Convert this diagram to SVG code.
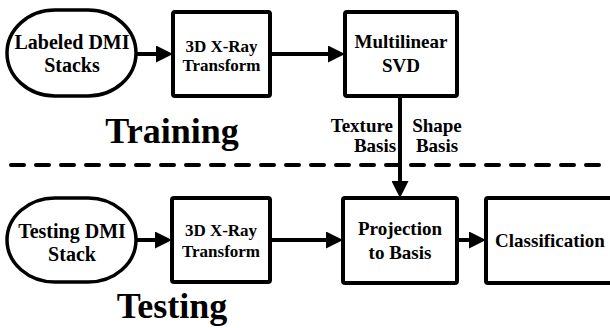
<svg xmlns="http://www.w3.org/2000/svg" width="610" height="328" viewBox="0 0 610 328">
<defs>
<style>
.box{fill:#fff;stroke:#000;stroke-width:4}
.term{fill:#fff;stroke:#000;stroke-width:3.5}
.t{font-family:"Liberation Serif","Times New Roman",serif;font-weight:bold;fill:#000;text-anchor:middle}
.n{font-size:19px}
.m{font-size:20px}
.s{font-size:17px}
.big{font-size:36px}
.edge{stroke:#000;stroke-width:4;fill:none}
.dash{stroke:#000;stroke-width:4;stroke-dasharray:13 12;stroke-linecap:round;fill:none}
</style>
<marker id="ah" markerUnits="userSpaceOnUse" markerWidth="17" markerHeight="17" refX="7" refY="8.5" orient="auto" viewBox="0 0 17 17">
<path d="M0,0 L17,8.5 L0,17 z" fill="#000"/>
</marker>
</defs>
<rect width="610" height="328" fill="#fff"/>

<g id="connectors">
<line class="edge" x1="136" y1="54" x2="163" y2="54" marker-end="url(#ah)"/>
<line class="edge" x1="270" y1="54" x2="335" y2="54" marker-end="url(#ah)"/>
<line class="edge" x1="400" y1="96" x2="400" y2="188" marker-end="url(#ah)"/>
<line class="edge" x1="136" y1="240" x2="162" y2="240" marker-end="url(#ah)"/>
<line class="edge" x1="270" y1="240" x2="333" y2="240" marker-end="url(#ah)"/>
<line class="edge" x1="457" y1="240" x2="476" y2="240" marker-end="url(#ah)"/>
<text class="t n" x="393" y="132" style="text-anchor:end">Texture</text>
<text class="t n" x="375" y="152">Basis</text>
<text class="t n" x="437" y="132">Shape</text>
<text class="t n" x="437" y="152">Basis</text>
</g>

<g id="divider">
<line class="dash" x1="11" y1="165" x2="610" y2="165"/>
</g>

<g id="training-label"><text class="t big" x="172" y="143">Training</text></g>
<g id="testing-label"><text class="t big" x="172" y="318">Testing</text></g>

<g id="labeled-dmi">
<rect class="term" x="7" y="10" width="129" height="86" rx="48" ry="43"/>
<text class="t m" x="72" y="49">Labeled DMI</text>
<text class="t m" x="72" y="72">Stacks</text>
</g>
<g id="xray-train">
<rect class="box" x="173" y="12" width="97" height="84" rx="2"/>
<text class="t s" x="221.5" y="52">3D X-Ray</text>
<text class="t s" x="221.5" y="71">Transform</text>
</g>
<g id="msvd">
<rect class="box" x="345" y="12" width="112" height="84" rx="2"/>
<text class="t n" x="401" y="48">Multilinear</text>
<text class="t n" x="401" y="72">SVD</text>
</g>

<g id="testing-dmi">
<rect class="term" x="7" y="198" width="129" height="84" rx="48" ry="42"/>
<text class="t m" x="72" y="238">Testing DMI</text>
<text class="t m" x="72" y="261">Stack</text>
</g>
<g id="xray-test">
<rect class="box" x="172" y="198" width="98" height="84" rx="2"/>
<text class="t s" x="221" y="236">3D X-Ray</text>
<text class="t s" x="221" y="257">Transform</text>
</g>
<g id="projection">
<rect class="box" x="343" y="198" width="114" height="85" rx="2"/>
<text class="t n" x="400" y="235">Projection</text>
<text class="t n" x="400" y="259">to Basis</text>
</g>
<g id="classification">
<rect class="box" x="486" y="198" width="130" height="85" rx="2"/>
<text class="t n" x="550" y="247">Classification</text>
</g>
</svg>
